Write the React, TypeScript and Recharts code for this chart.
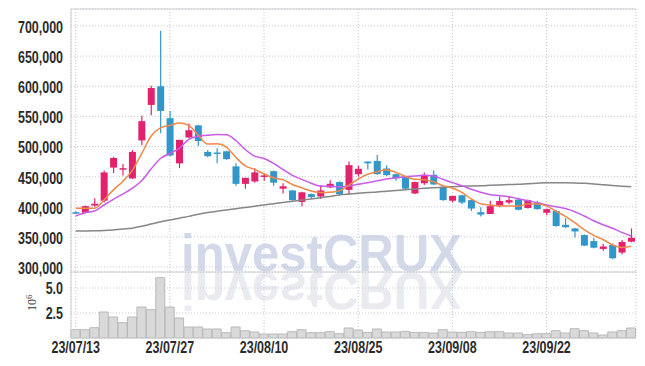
import React from "react";
import {
  ComposedChart,
  BarChart,
  Bar,
  Line,
  XAxis,
  YAxis,
  CartesianGrid,
  ReferenceLine,
} from "recharts";

// prices are in thousand won, volume in millions of shares
const dates = [
  "23/07/13", "23/07/14", "23/07/17", "23/07/18", "23/07/19", "23/07/20", "23/07/21", "23/07/24", "23/07/25", "23/07/26",
  "23/07/27", "23/07/28", "23/07/31", "23/08/01", "23/08/02", "23/08/03", "23/08/04", "23/08/07", "23/08/08", "23/08/09",
  "23/08/10", "23/08/11", "23/08/14", "23/08/16", "23/08/17", "23/08/18", "23/08/21", "23/08/22", "23/08/23", "23/08/24",
  "23/08/25", "23/08/28", "23/08/29", "23/08/30", "23/08/31", "23/09/01", "23/09/04", "23/09/05", "23/09/06", "23/09/07",
  "23/09/08", "23/09/11", "23/09/12", "23/09/13", "23/09/14", "23/09/15", "23/09/18", "23/09/19", "23/09/20", "23/09/21",
  "23/09/22", "23/09/25", "23/09/26", "23/09/27", "23/10/04", "23/10/05", "23/10/06", "23/10/10", "23/10/11", "23/10/12",
];

const open = [
  391, 390, 402, 410, 465, 462, 447, 510, 569, 600,
  547, 472, 515, 535, 491, 490, 492, 467, 438, 442,
  450, 459, 430, 427, 408, 421, 417, 432, 441, 428,
  454, 475, 476, 463.5, 454, 450, 422, 439, 453, 433,
  410, 419, 411, 391, 388, 401, 407, 412, 398, 407,
  390, 393, 370, 364, 353, 343, 330, 336.5, 324, 342,
];
const high = [
  392.5, 402, 414, 460, 483, 471, 494, 551, 601, 692,
  559, 511, 538, 536, 494, 497, 493, 472, 448, 464,
  455, 460, 439, 428, 425, 422, 436, 444, 442, 475,
  468, 475, 486, 469, 455, 451, 442, 457, 460, 434,
  418, 420, 412, 399, 410, 417, 418, 415, 412, 410,
  397, 394, 381, 365, 354, 348, 338, 339, 345, 364,
];
const low = [
  388, 389, 400, 407, 456, 452, 446, 502, 552, 522,
  484, 464, 514, 501, 482, 472, 478, 435, 430, 440,
  443, 435, 422, 410, 401, 413, 413, 431, 419, 420,
  450, 462, 453, 451, 443, 429, 421, 436, 436, 410,
  407, 404, 393, 384, 388, 399, 404, 394, 397, 395,
  386, 367, 365, 349, 335, 331, 327, 313, 321, 341,
];
const close = [
  389, 401, 405, 457, 481, 464, 491, 542, 597, 559,
  485, 511, 527, 509, 484, 489, 479, 438, 448, 457,
  452, 440, 434, 411, 424, 416, 427, 438, 421, 469,
  463, 472, 454, 452.5, 447, 430, 441, 453, 437, 411,
  418, 407, 397, 387, 401, 409.5, 411, 395, 411, 396,
  396, 368, 366, 359, 335.5, 332, 334, 314.5, 341.5, 348.5,
];

const ma5 = [
  397.4, 397.4, 397.6, 411, 428, 442, 460, 488, 517, 531,
  535, 539, 535, 519, 504, 504.5, 499, 482, 468, 462,
  454.5, 448, 445, 437, 431.5, 426, 423.5, 424, 426.5, 436,
  446, 454, 458, 461.5, 457, 450.5, 445.5, 445, 441.6, 435,
  431, 424, 413, 405, 403, 401.5, 401.2, 401, 404.5, 404.5,
  401.5, 392.5, 384, 373.5, 362, 352.5, 345.6, 336.5, 332.5, 334.5,
];
const ma10 = [
  384.6, 390, 392.9, 402.9, 412.3, 421.1, 430.5, 443.2, 462.6, 480,
  488.7, 497, 512, 517, 518.5, 519.8, 519.5, 510, 495, 484,
  480, 472, 462, 452, 445.5, 439, 434.5, 434, 433, 434.5,
  437.5, 440, 443, 446, 448.2, 449.8, 451, 452.3, 451, 445.5,
  440, 435, 429, 424, 420, 418.5, 416.5, 413.3, 410, 406.7,
  403, 400, 397, 391.8, 384.6, 376.8, 370.2, 364.2, 357.5, 351.4,
];
const ma60 = [
  359.7, 359.8, 360, 360.5, 361.5, 362.9, 364.5, 367.5, 371.3, 375,
  378, 381, 384, 387.5, 390.5, 392.5, 394.5, 396.7, 398.8, 401,
  403, 405, 407, 409, 411, 413, 415, 417, 419.5, 421,
  422.3, 423.5, 424.5, 425.8, 427, 428.2, 429.4, 430.5, 431.5, 432.4,
  433.3, 434, 434.4, 434.8, 435.5, 436.2, 436.8, 437.3, 438.3, 439.2,
  439.9, 440, 439.8, 439.4, 438.8, 437.8, 436.6, 435.3, 434.2, 433.3,
];

const volume = [
  0.83, 0.83, 1.03, 2.6, 2.1, 1.53, 2.1, 3.1, 2.83, 6.03,
  3.1, 2.0, 1.1, 1.1, 0.9, 0.9, 0.53, 1.1, 0.73, 0.6,
  0.4, 0.4, 0.4, 0.63, 0.83, 0.53, 0.53, 0.63, 0.43, 1.0,
  0.8, 0.56, 0.9, 0.6, 0.6, 0.66, 0.56, 0.56, 0.5, 0.83,
  0.6, 0.56, 0.63, 0.56, 0.63, 0.63, 0.5, 0.5, 0.33, 0.43,
  0.43, 0.73, 0.5, 0.93, 0.73, 0.5, 0.3, 0.6, 0.73, 1.0,
];

const priceTicks = [300, 350, 400, 450, 500, 550, 600, 650, 700];
const volumeTicks = [2.5, 5.0];
const PRICE_MIN = 291.7;
const PRICE_MAX = 728.2;

const rows = dates.map((date, i) => ({
  date,
  open: open[i],
  high: high[i],
  low: low[i],
  close: close[i],
  ma5: ma5[i],
  ma10: ma10[i],
  ma60: ma60[i],
  volume: volume[i],
}));

const UP = "#e3216d";
const DOWN = "#3197cb";
const FRAME = "#cfcfcf";
const GRID = "#c3c7da";
const FONT = "'Liberation Sans', Arial, sans-serif";

const Candle = (props: any) => {
  const { x, y, width, height, payload } = props;
  if (!payload) return null;
  const top = Math.min(y, y + height);
  const h = Math.abs(height);
  const range = payload.high - payload.low || 1;
  const toY = (v: number) => top + ((payload.high - v) / range) * h;
  const color = payload.close >= payload.open ? UP : DOWN;
  const bTop = toY(Math.max(payload.open, payload.close));
  const bBot = toY(Math.min(payload.open, payload.close));
  const cx = x + width / 2;
  return (
    <g>
      <line x1={cx} x2={cx} y1={top} y2={top + h} stroke={color} strokeWidth={1.2} />
      <rect x={x} y={bTop} width={width} height={Math.max(bBot - bTop, 1.5)} fill={color} />
    </g>
  );
};

// narrow look: regular sans squeezed horizontally
const NarrowText = ({ x, y, anchor, children }: any) => (
  <text
    transform={`translate(${x},${y}) scale(0.78,1)`}
    textAnchor={anchor}
    fontSize={16}
    fontWeight={600}
    fill="#2b2b2b"
    fontFamily={FONT}
  >
    {children}
  </text>
);

const PriceTick = ({ x, y, payload }: any) => (
  <NarrowText x={x} y={y + 7} anchor="end">
    {(payload.value * 1000).toLocaleString("en-US")}
  </NarrowText>
);

const VolumeTick = ({ x, y, payload }: any) => (
  <NarrowText x={x} y={y + 6} anchor="end">
    {payload.value.toFixed(1)}
  </NarrowText>
);

const DateTick = ({ x, y, payload }: any) => (
  <NarrowText x={x} y={y + 7} anchor="middle">
    {payload.value}
  </NarrowText>
);

const UnitLabel = ({ viewBox }: any) => (
  <text
    transform={`translate(${viewBox.x + 36},${viewBox.y + viewBox.height / 2 + 6}) rotate(-90)`}
    fontSize={12}
    fill="#333"
    fontFamily="'Liberation Serif', serif"
  >
    10
    <tspan dy={-4} fontSize={9}>
      6
    </tspan>
  </text>
);

export default function App() {
  return (
    <div style={{ position: "absolute", left: 0, top: 0, width: 645, height: 366, background: "#fff" }}>
      {/* watermark with its reflection */}
      <svg width={645} height={366} style={{ position: "absolute", left: 0, top: 0 }}>
        <text
          x={181}
          y={271}
          fontSize={52}
          fontWeight="bold"
          fontFamily="'Liberation Sans', Arial, sans-serif"
          fill="#d3d9e8"
          textLength={281}
          lengthAdjust="spacingAndGlyphs"
        >
          investCRUX
        </text>
        <text
          x={181}
          y={271}
          transform="matrix(1 0 0 -1 0 544)"
          fontSize={52}
          fontWeight="bold"
          fontFamily="'Liberation Sans', Arial, sans-serif"
          fill="#e9ebf1"
          textLength={281}
          lengthAdjust="spacingAndGlyphs"
        >
          investCRUX
        </text>
      </svg>

      <div style={{ position: "absolute", left: 0, top: 0 }}>
        <ComposedChart
          width={645}
          height={282}
          data={rows}
          margin={{ top: 9, right: 9, bottom: 10, left: 0 }}
          barCategoryGap="15%"
        >
          <CartesianGrid stroke={GRID} strokeDasharray="1 2" />
          <XAxis dataKey="date" hide interval={9} />
          <YAxis
            width={71}
            domain={[PRICE_MIN, PRICE_MAX]}
            ticks={priceTicks}
            interval={0}
            tick={<PriceTick />}
            tickLine={false}
            axisLine={{ stroke: FRAME }}
          />
          <YAxis
            yAxisId="right"
            orientation="right"
            width={0}
            domain={[PRICE_MIN, PRICE_MAX]}
            tick={false}
            tickLine={false}
            axisLine={{ stroke: FRAME }}
          />
          <ReferenceLine y={PRICE_MAX} stroke={FRAME} />
          <ReferenceLine y={PRICE_MIN} stroke={FRAME} />
          <Bar
            dataKey={(d: any) => [d.low, d.high]}
            shape={(p: any) => <Candle {...p} />}
            isAnimationActive={false}
          />
          <Line dataKey="ma60" type="monotone" stroke="#868686" strokeWidth={1.5} dot={false} isAnimationActive={false} />
          <Line dataKey="ma10" type="monotone" stroke="#c95aec" strokeWidth={1.5} dot={false} isAnimationActive={false} />
          <Line dataKey="ma5" type="monotone" stroke="#f0884a" strokeWidth={1.5} dot={false} isAnimationActive={false} />
        </ComposedChart>
      </div>

      <div style={{ position: "absolute", left: 0, top: 272 }}>
        <BarChart
          width={645}
          height={94}
          data={rows}
          margin={{ top: 0, right: 9, bottom: 0, left: 0 }}
          barCategoryGap={0}
        >
          <CartesianGrid stroke={GRID} strokeDasharray="1 2" />
          <XAxis
            dataKey="date"
            interval={9}
            height={28}
            tick={<DateTick />}
            tickLine={false}
            axisLine={false}
          />
          <YAxis
            width={71}
            domain={[0, 6.6]}
            ticks={volumeTicks}
            tick={<VolumeTick />}
            tickLine={false}
            axisLine={{ stroke: FRAME }}
            label={(p: any) => <UnitLabel {...p} />}
          />
          <YAxis
            yAxisId="right"
            orientation="right"
            width={0}
            domain={[0, 6.6]}
            tick={false}
            tickLine={false}
            axisLine={{ stroke: FRAME }}
          />
          <Bar dataKey="volume" fill="#d9d9d9" stroke="#b9b9b9" strokeWidth={1} isAnimationActive={false} />
        </BarChart>
      </div>
    </div>
  );
}
